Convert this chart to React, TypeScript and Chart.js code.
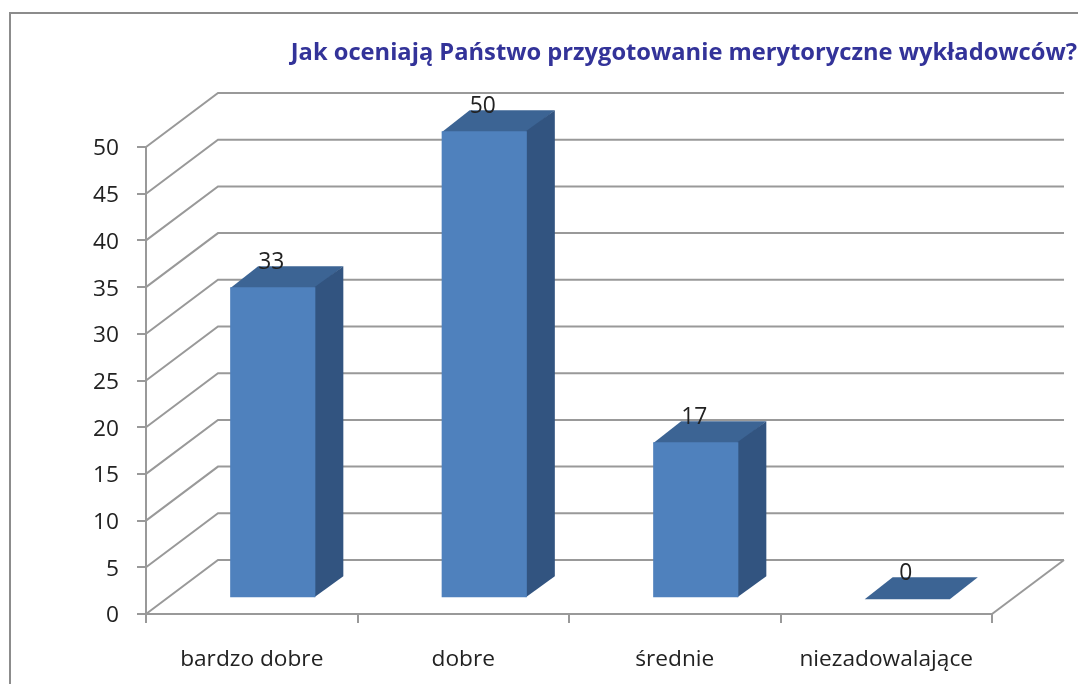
import React, { useEffect, useRef } from "react";
import { Chart, registerables } from "chart.js";

Chart.register(...registerables);

const titleText = "Jak oceniają Państwo przygotowanie merytoryczne wykładowców?";
const categories = ["bardzo dobre", "dobre", "średnie", "niezadowalające"];
const responses = [33.3, 50, 16.7, 0];
const yMax = 50;
const yStep = 5;

const GRID = "#999999";
const TEXT = "#222222";
const FRONT = "#4f81bd";
const TOP = "#3c6494";
const SIDE = "#325480";
const FONT = "'Open Sans', 'Noto Sans', sans-serif";

const WALL_DX = 72;
const WALL_DY = -54;
const BAR_DX = 21;
const BAR_DY = -15.7;
const DEPTH_X = 28;
const DEPTH_Y = -21;

function poly(ctx: CanvasRenderingContext2D, pts: number[][], fill: string) {
  ctx.beginPath();
  pts.forEach((p, i) => (i ? ctx.lineTo(p[0], p[1]) : ctx.moveTo(p[0], p[1])));
  ctx.closePath();
  ctx.fillStyle = fill;
  ctx.fill();
}

const wallPlugin = {
  id: "wall3d",
  beforeDatasetsDraw(chart: any) {
    const { ctx, scales, chartArea } = chart;
    ctx.save();
    ctx.strokeStyle = GRID;
    ctx.lineWidth = 2;
    scales.y.ticks.forEach((t: any) => {
      const y = scales.y.getPixelForValue(t.value);
      ctx.beginPath();
      ctx.moveTo(chartArea.left, y);
      ctx.lineTo(chartArea.left + WALL_DX, y + WALL_DY);
      ctx.lineTo(chartArea.right + WALL_DX, y + WALL_DY);
      ctx.stroke();
    });
    ctx.beginPath();
    ctx.moveTo(chartArea.right, chartArea.bottom);
    ctx.lineTo(chartArea.right + WALL_DX, chartArea.bottom + WALL_DY);
    ctx.stroke();
    ctx.restore();
  },
  beforeDatasetDraw() {
    return false;
  },
  afterDatasetsDraw(chart: any) {
    const { ctx } = chart;
    const meta = chart.getDatasetMeta(0);
    ctx.save();
    meta.data.forEach((bar: any, i: number) => {
      const l = bar.x - bar.width / 2 + BAR_DX;
      const r = bar.x + bar.width / 2 + BAR_DX;
      const t = bar.y + BAR_DY;
      const b = bar.base + BAR_DY;
      poly(ctx, [[l, t + 1], [l + DEPTH_X, t + DEPTH_Y], [r + DEPTH_X, t + DEPTH_Y], [r, t + 1]], TOP);
      if (b - t > 0.5) {
        poly(ctx, [[r - 1, t], [r + DEPTH_X, t + DEPTH_Y], [r + DEPTH_X, b + DEPTH_Y], [r - 1, b]], SIDE);
        poly(ctx, [[l, t], [r, t], [r, b], [l, b]], FRONT);
      }
      ctx.font = `22.8px ${FONT}`;
      ctx.fillStyle = TEXT;
      ctx.textAlign = "center";
      ctx.textBaseline = "middle";
      ctx.fillText(String(Math.round(responses[i])), bar.x + BAR_DX - 1.5, t - 25);
    });
    ctx.restore();
  },
};

export default function App() {
  const ref = useRef<HTMLCanvasElement>(null);
  useEffect(() => {
    const chart = new Chart(ref.current!, {
      type: "bar",
      data: {
        labels: categories,
        datasets: [{ data: responses, backgroundColor: FRONT, categoryPercentage: 1, barPercentage: 0.4027 }],
      },
      options: {
        animation: false,
        responsive: false,
        layout: { padding: { top: 0, left: 0, right: 1, bottom: 0 } },
        plugins: {
          legend: { display: false },
          tooltip: { enabled: false },
          title: {
            display: true,
            text: titleText,
            align: "end",
            color: "#333399",
            font: { family: FONT, size: 23.7, weight: "bold" },
            padding: { top: 39, bottom: 79.56 },
          },
        },
        scales: {
          x: {
            grid: { drawOnChartArea: false, color: GRID, lineWidth: 2, tickLength: 9, offset: true },
            border: { color: GRID, width: 2 },
            ticks: { color: TEXT, font: { family: FONT, size: 22.7 }, padding: 23, maxRotation: 0, autoSkip: false },
            afterFit: (s: any) => {
              s.height = 70;
            },
          },
          y: {
            min: 0,
            max: yMax,
            grid: { drawOnChartArea: false, color: GRID, lineWidth: 2, tickLength: 9 },
            border: { color: GRID, width: 2 },
            ticks: { stepSize: yStep, color: TEXT, font: { family: FONT, size: 22.7 }, padding: 18, labelOffset: 2 },
            afterFit: (s: any) => {
              s.width = 146;
            },
          },
          spacer: {
            position: "right",
            grid: { display: false },
            border: { display: false },
            ticks: { display: false },
            afterFit: (s: any) => {
              s.width = 85;
            },
          },
        },
      },
      plugins: [wallPlugin],
    } as any);
    return () => chart.destroy();
  }, []);
  return (
    <div style={{ position: "fixed", left: 0, top: 0, width: 1078, height: 684, overflow: "hidden", background: "#fff" }}>
      <div
        style={{
          position: "absolute",
          left: 9,
          top: 12,
          width: 1100,
          height: 700,
          borderLeft: "2px solid #8c8c8c",
          borderTop: "2px solid #8c8c8c",
        }}
      />
      <canvas
        ref={ref}
        width={1078}
        height={684}
        style={{ position: "absolute", left: 0, top: 0, display: "block", filter: "blur(0.4px)" }}
      />
    </div>
  );
}
